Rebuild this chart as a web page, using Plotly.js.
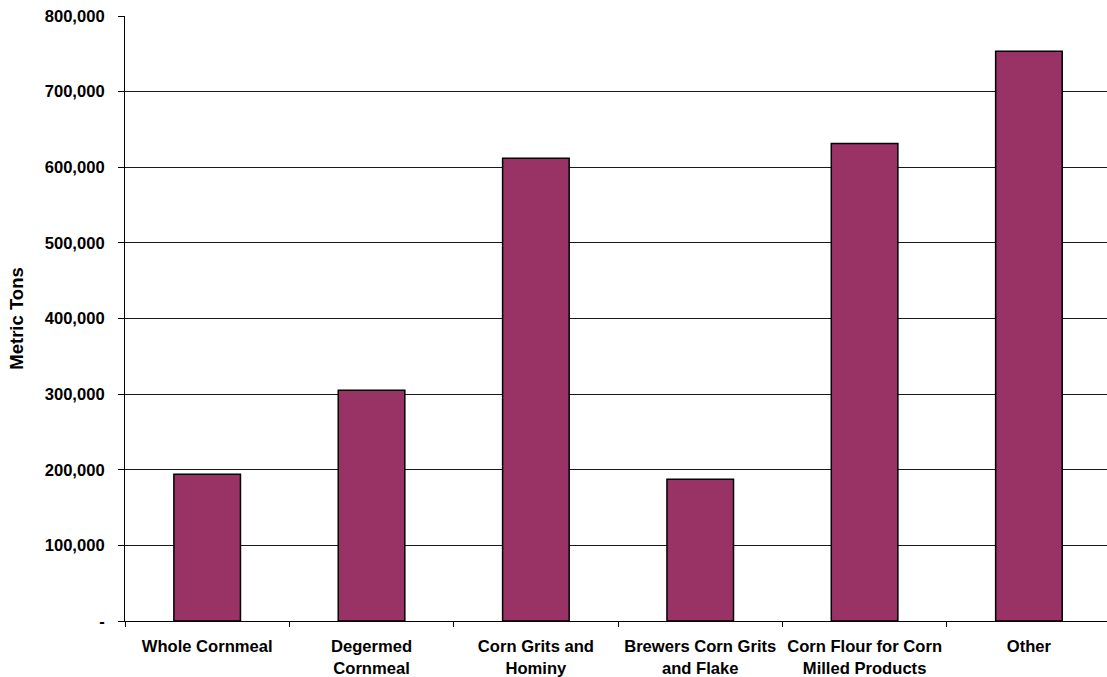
<!DOCTYPE html>
<html>
<head>
<meta charset="utf-8">
<script src="https://cdn.plot.ly/plotly-3.0.1.min.js"></script>
<style>
  html, body { margin: 0; padding: 0; background: #ffffff; }
  #chart { width: 1107px; height: 677px; }
</style>
</head>
<body>
<div id="chart"></div>
<script>
// Dry-milled corn products, metric tons
const categories = [
  'Whole Cornmeal',
  'Degermed<br>Cornmeal',
  'Corn Grits and<br>Hominy',
  'Brewers Corn Grits<br>and Flake',
  'Corn Flour for Corn<br>Milled Products',
  'Other'
];
const metricTons = [194000, 305000, 612000, 187500, 631500, 753500];

const yTickVals = [0, 100000, 200000, 300000, 400000, 500000, 600000, 700000, 800000];
const yTickText = ['-', '100,000', '200,000', '300,000', '400,000', '500,000', '600,000', '700,000', '800,000'];

const font = 'Liberation Sans, Arial, sans-serif';

const trace = {
  type: 'bar',
  x: categories,
  y: metricTons,
  width: 0.405,
  marker: { color: '#993366', line: { color: '#000000', width: 1.5 } },
  hoverinfo: 'x+y'
};

const layout = {
  width: 1107,
  height: 677,
  margin: { l: 125, r: 0, t: 16, b: 56 },
  paper_bgcolor: '#ffffff',
  plot_bgcolor: '#ffffff',
  showlegend: false,
  font: { family: font, color: '#000000' },
  xaxis: {
    type: 'category',
    range: [-0.5, 5.475],
    showline: true,
    linecolor: '#000000',
    linewidth: 1,
    ticks: 'outside',
    tickson: 'boundaries',
    ticklen: 5,
    tickcolor: '#000000',
    ticklabelstandoff: 10,
    showgrid: false,
    tickfont: { family: font, size: 16.6, color: '#000000', weight: 'bold' },
    tickangle: 0,
    automargin: false
  },
  yaxis: {
    range: [0, 800000],
    tickvals: yTickVals,
    ticktext: yTickText,
    showline: true,
    linecolor: '#000000',
    linewidth: 1,
    ticks: 'outside',
    ticklen: 6,
    tickcolor: '#000000',
    ticklabelstandoff: 10,
    showgrid: true,
    gridcolor: '#1a1a1a',
    gridwidth: 1,
    zeroline: false,
    tickfont: { family: font, size: 16.6, color: '#000000', weight: 'bold' },
    title: {
      text: 'Metric Tons',
      font: { family: font, size: 18.5, color: '#000000', weight: 'bold' },
      standoff: 16
    },
    automargin: false
  },
  bargap: 0.6
};

Plotly.newPlot('chart', [trace], layout, { displayModeBar: false, staticPlot: true });
</script>
</body>
</html>
